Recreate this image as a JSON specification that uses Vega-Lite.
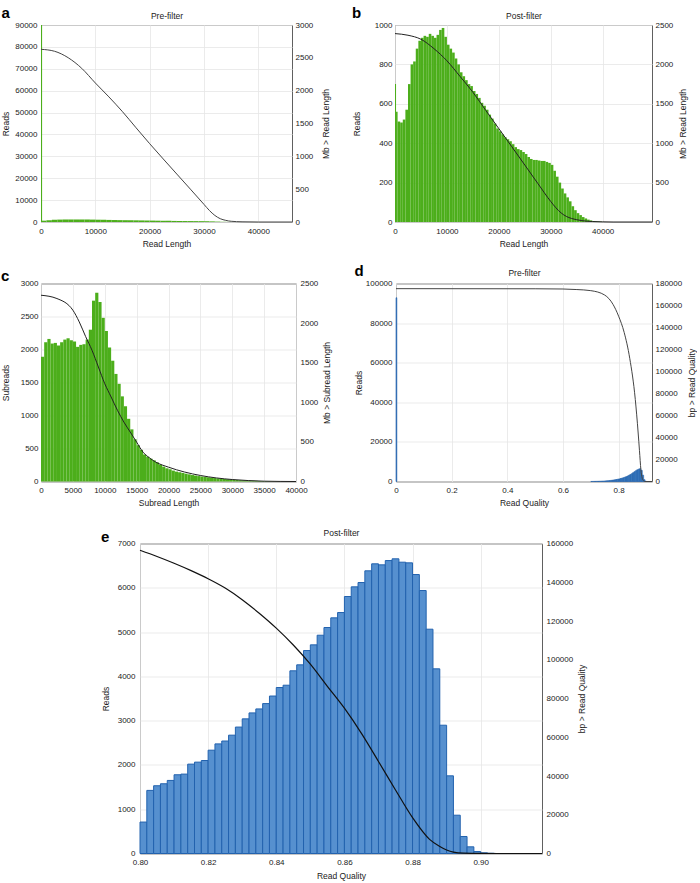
{
"$schema": "https://vega.github.io/schema/vega-lite/v6.json",
"background": "white",
"padding": {"left": 0, "top": 5, "right": 0, "bottom": 0},
"config": {
  "font": "Liberation Sans",
  "view": {"stroke": "#606060", "strokeWidth": 1},
  "axis": {"labelFontSize": 8, "titleFontSize": 8.5, "titleFontWeight": "normal", "labelColor": "#222", "titleColor": "#222", "ticks": false, "domain": false, "grid": false, "gridColor": "#e6e6e6", "gridWidth": 0.8, "labelFlush": false, "labelOverlap": false, "labelBound": false},
  "title": {"fontSize": 15, "fontWeight": "bold", "color": "#000", "anchor": "start", "frame": "bounds", "offset": -10}
},
"datasets": {
  "aBars": [{"s":0,"e":200,"r":90000},{"s":0,"e":1000,"r":600},{"s":1000,"e":2000,"r":800},{"s":2000,"e":3000,"r":1000},{"s":3000,"e":4000,"r":1100},{"s":4000,"e":5000,"r":1150},{"s":5000,"e":6000,"r":1150},{"s":6000,"e":7000,"r":1150},{"s":7000,"e":8000,"r":1150},{"s":8000,"e":9000,"r":1150},{"s":9000,"e":10000,"r":1100},{"s":10000,"e":11000,"r":1050},{"s":11000,"e":12000,"r":1000},{"s":12000,"e":13000,"r":950},{"s":13000,"e":14000,"r":900},{"s":14000,"e":15000,"r":850},{"s":15000,"e":16000,"r":820},{"s":16000,"e":17000,"r":800},{"s":17000,"e":18000,"r":760},{"s":18000,"e":19000,"r":720},{"s":19000,"e":20000,"r":680},{"s":20000,"e":21000,"r":640},{"s":21000,"e":22000,"r":600},{"s":22000,"e":23000,"r":560},{"s":23000,"e":24000,"r":520},{"s":24000,"e":25000,"r":490},{"s":25000,"e":26000,"r":460},{"s":26000,"e":27000,"r":440},{"s":27000,"e":28000,"r":420},{"s":28000,"e":29000,"r":400},{"s":29000,"e":30000,"r":380},{"s":30000,"e":31000,"r":350},{"s":31000,"e":32000,"r":280},{"s":32000,"e":33000,"r":180},{"s":33000,"e":34000,"r":100},{"s":34000,"e":35000,"r":60},{"s":35000,"e":36000,"r":30},{"s":36000,"e":37000,"r":15},{"s":37000,"e":38000,"r":8},{"s":38000,"e":39000,"r":4},{"s":39000,"e":40000,"r":2}],
  "aLine": [{"x":0,"y":2630},{"x":2500,"y":2600},{"x":5000,"y":2502},{"x":7500,"y":2340},{"x":10000,"y":2117},{"x":12500,"y":1905},{"x":15000,"y":1680},{"x":17500,"y":1435},{"x":20000,"y":1193},{"x":22500,"y":960},{"x":25000,"y":730},{"x":27500,"y":500},{"x":30000,"y":268},{"x":31000,"y":175},{"x":32000,"y":100},{"x":33000,"y":50},{"x":34000,"y":25},{"x":35000,"y":11},{"x":37000,"y":3},{"x":40000,"y":0},{"x":46200,"y":0}],
  "bBars": [{"s":0,"e":200,"r":700},{"s":200,"e":500,"r":560},{"s":500,"e":1000,"r":510},{"s":1000,"e":1500,"r":505},{"s":1500,"e":2000,"r":520},{"s":2000,"e":2500,"r":570},{"s":2500,"e":3000,"r":700},{"s":3000,"e":3500,"r":800},{"s":3500,"e":4000,"r":815},{"s":4000,"e":4500,"r":880},{"s":4500,"e":5000,"r":920},{"s":5000,"e":5500,"r":935},{"s":5500,"e":6000,"r":945},{"s":6000,"e":6500,"r":940},{"s":6500,"e":7000,"r":955},{"s":7000,"e":7500,"r":945},{"s":7500,"e":8000,"r":935},{"s":8000,"e":8500,"r":950},{"s":8500,"e":9000,"r":975},{"s":9000,"e":9500,"r":985},{"s":9500,"e":10000,"r":940},{"s":10000,"e":10500,"r":900},{"s":10500,"e":11000,"r":880},{"s":11000,"e":11500,"r":860},{"s":11500,"e":12000,"r":830},{"s":12000,"e":12500,"r":800},{"s":12500,"e":13000,"r":760},{"s":13000,"e":13500,"r":740},{"s":13500,"e":14000,"r":720},{"s":14000,"e":14500,"r":700},{"s":14500,"e":15000,"r":690},{"s":15000,"e":15500,"r":665},{"s":15500,"e":16000,"r":650},{"s":16000,"e":16500,"r":630},{"s":16500,"e":17000,"r":605},{"s":17000,"e":17500,"r":590},{"s":17500,"e":18000,"r":570},{"s":18000,"e":18500,"r":545},{"s":18500,"e":19000,"r":525},{"s":19000,"e":19500,"r":500},{"s":19500,"e":20000,"r":475},{"s":20000,"e":20500,"r":460},{"s":20500,"e":21000,"r":445},{"s":21000,"e":21500,"r":430},{"s":21500,"e":22000,"r":420},{"s":22000,"e":22500,"r":410},{"s":22500,"e":23000,"r":395},{"s":23000,"e":23500,"r":380},{"s":23500,"e":24000,"r":370},{"s":24000,"e":24500,"r":365},{"s":24500,"e":25000,"r":355},{"s":25000,"e":25500,"r":345},{"s":25500,"e":26000,"r":330},{"s":26000,"e":26500,"r":320},{"s":26500,"e":27000,"r":315},{"s":27000,"e":27500,"r":315},{"s":27500,"e":28000,"r":312},{"s":28000,"e":28500,"r":310},{"s":28500,"e":29000,"r":310},{"s":29000,"e":29500,"r":305},{"s":29500,"e":30000,"r":300},{"s":30000,"e":30500,"r":290},{"s":30500,"e":31000,"r":260},{"s":31000,"e":31500,"r":230},{"s":31500,"e":32000,"r":200},{"s":32000,"e":32500,"r":170},{"s":32500,"e":33000,"r":145},{"s":33000,"e":33500,"r":125},{"s":33500,"e":34000,"r":105},{"s":34000,"e":34500,"r":80},{"s":34500,"e":35000,"r":60},{"s":35000,"e":35500,"r":45},{"s":35500,"e":36000,"r":35},{"s":36000,"e":36500,"r":25},{"s":36500,"e":37000,"r":18},{"s":37000,"e":37500,"r":12},{"s":37500,"e":38000,"r":8},{"s":38000,"e":38500,"r":5},{"s":38500,"e":39000,"r":3},{"s":39000,"e":39500,"r":2},{"s":39500,"e":40000,"r":1}],
  "bLine": [{"x":0,"y":2391},{"x":2500,"y":2370},{"x":5000,"y":2319},{"x":7500,"y":2200},{"x":10000,"y":2046},{"x":12500,"y":1850},{"x":15000,"y":1647},{"x":17500,"y":1415},{"x":20000,"y":1185},{"x":22500,"y":955},{"x":25000,"y":723},{"x":27500,"y":490},{"x":30000,"y":260},{"x":31000,"y":180},{"x":32000,"y":115},{"x":33000,"y":71},{"x":34000,"y":45},{"x":35000,"y":29},{"x":36000,"y":17},{"x":38000,"y":6},{"x":40000,"y":2},{"x":42000,"y":0},{"x":49500,"y":0}],
  "cBars": [{"s":0,"e":500,"r":1890},{"s":500,"e":1000,"r":2110},{"s":1000,"e":1500,"r":2160},{"s":1500,"e":2000,"r":2090},{"s":2000,"e":2500,"r":2100},{"s":2500,"e":3000,"r":2060},{"s":3000,"e":3500,"r":2110},{"s":3500,"e":4000,"r":2150},{"s":4000,"e":4500,"r":2170},{"s":4500,"e":5000,"r":2140},{"s":5000,"e":5500,"r":2120},{"s":5500,"e":6000,"r":2040},{"s":6000,"e":6500,"r":2070},{"s":6500,"e":7000,"r":2080},{"s":7000,"e":7500,"r":2150},{"s":7500,"e":8000,"r":2300},{"s":8000,"e":8500,"r":2740},{"s":8500,"e":9000,"r":2860},{"s":9000,"e":9500,"r":2720},{"s":9500,"e":10000,"r":2480},{"s":10000,"e":10500,"r":2280},{"s":10500,"e":11000,"r":2030},{"s":11000,"e":11500,"r":1830},{"s":11500,"e":12000,"r":1630},{"s":12000,"e":12500,"r":1480},{"s":12500,"e":13000,"r":1290},{"s":13000,"e":13500,"r":1140},{"s":13500,"e":14000,"r":950},{"s":14000,"e":14500,"r":790},{"s":14500,"e":15000,"r":640},{"s":15000,"e":15500,"r":550},{"s":15500,"e":16000,"r":480},{"s":16000,"e":16500,"r":410},{"s":16500,"e":17000,"r":375},{"s":17000,"e":17500,"r":345},{"s":17500,"e":18000,"r":320},{"s":18000,"e":18500,"r":290},{"s":18500,"e":19000,"r":255},{"s":19000,"e":19500,"r":225},{"s":19500,"e":20000,"r":200},{"s":20000,"e":20500,"r":185},{"s":20500,"e":21000,"r":165},{"s":21000,"e":21500,"r":150},{"s":21500,"e":22000,"r":140},{"s":22000,"e":22500,"r":130},{"s":22500,"e":23000,"r":118},{"s":23000,"e":23500,"r":108},{"s":23500,"e":24000,"r":98},{"s":24000,"e":24500,"r":90},{"s":24500,"e":25000,"r":82},{"s":25000,"e":25500,"r":75},{"s":25500,"e":26000,"r":70},{"s":26000,"e":26500,"r":64},{"s":26500,"e":27000,"r":58},{"s":27000,"e":27500,"r":52},{"s":27500,"e":28000,"r":47},{"s":28000,"e":28500,"r":42},{"s":28500,"e":29000,"r":38},{"s":29000,"e":29500,"r":34},{"s":29500,"e":30000,"r":30},{"s":30000,"e":30500,"r":26},{"s":30500,"e":31000,"r":23},{"s":31000,"e":31500,"r":20},{"s":31500,"e":32000,"r":18},{"s":32000,"e":32500,"r":16},{"s":32500,"e":33000,"r":14},{"s":33000,"e":33500,"r":12},{"s":33500,"e":34000,"r":10},{"s":34000,"e":34500,"r":8},{"s":34500,"e":35000,"r":6},{"s":35000,"e":35500,"r":5},{"s":35500,"e":36000,"r":4},{"s":36000,"e":36500,"r":3},{"s":36500,"e":37000,"r":2},{"s":37000,"e":37500,"r":1.5},{"s":37500,"e":38000,"r":1},{"s":38000,"e":38500,"r":1},{"s":38500,"e":39000,"r":0.5},{"s":39000,"e":39500,"r":0.5}],
  "cLine": [{"x":0,"y":2352},{"x":2500,"y":2310},{"x":5000,"y":2163},{"x":6000,"y":2015},{"x":7000,"y":1830},{"x":8000,"y":1657},{"x":9000,"y":1446},{"x":10000,"y":1235},{"x":11000,"y":1067},{"x":12000,"y":898},{"x":13000,"y":750},{"x":14000,"y":624},{"x":15000,"y":497},{"x":16000,"y":371},{"x":17000,"y":299},{"x":18000,"y":245},{"x":20000,"y":181},{"x":22500,"y":120},{"x":25000,"y":76},{"x":27500,"y":45},{"x":30000,"y":25},{"x":32500,"y":12},{"x":35000,"y":4},{"x":37500,"y":1},{"x":40000,"y":0}],
  "dBars": [{"s":0,"e":0.003,"r":92800},{"s":0.7,"e":0.705,"r":30},{"s":0.705,"e":0.71,"r":40},{"s":0.71,"e":0.715,"r":50},{"s":0.715,"e":0.72,"r":70},{"s":0.72,"e":0.725,"r":90},{"s":0.725,"e":0.73,"r":110},{"s":0.73,"e":0.735,"r":130},{"s":0.735,"e":0.74,"r":160},{"s":0.74,"e":0.745,"r":190},{"s":0.745,"e":0.75,"r":230},{"s":0.75,"e":0.755,"r":280},{"s":0.755,"e":0.76,"r":330},{"s":0.76,"e":0.765,"r":400},{"s":0.765,"e":0.77,"r":470},{"s":0.77,"e":0.775,"r":550},{"s":0.775,"e":0.78,"r":650},{"s":0.78,"e":0.785,"r":760},{"s":0.785,"e":0.79,"r":880},{"s":0.79,"e":0.795,"r":1010},{"s":0.795,"e":0.8,"r":1150},{"s":0.8,"e":0.805,"r":1300},{"s":0.805,"e":0.81,"r":1480},{"s":0.81,"e":0.815,"r":1680},{"s":0.815,"e":0.82,"r":1900},{"s":0.82,"e":0.825,"r":2150},{"s":0.825,"e":0.83,"r":2430},{"s":0.83,"e":0.835,"r":2750},{"s":0.835,"e":0.84,"r":3100},{"s":0.84,"e":0.845,"r":3500},{"s":0.845,"e":0.85,"r":3950},{"s":0.85,"e":0.855,"r":4450},{"s":0.855,"e":0.86,"r":4950},{"s":0.86,"e":0.865,"r":5450},{"s":0.865,"e":0.87,"r":5900},{"s":0.87,"e":0.875,"r":6250},{"s":0.875,"e":0.88,"r":6500},{"s":0.88,"e":0.885,"r":5600},{"s":0.885,"e":0.89,"r":3200},{"s":0.89,"e":0.895,"r":900},{"s":0.895,"e":0.9,"r":100}],
  "dLine": [{"x":0,"y":175300},{"x":0.5,"y":175200},{"x":0.6,"y":175000},{"x":0.65,"y":174500},{"x":0.7,"y":173500},{"x":0.75,"y":169500},{"x":0.78,"y":161000},{"x":0.8,"y":150300},{"x":0.82,"y":135500},{"x":0.84,"y":112000},{"x":0.86,"y":74500},{"x":0.87,"y":45000},{"x":0.875,"y":28000},{"x":0.88,"y":11000},{"x":0.885,"y":3000},{"x":0.89,"y":500},{"x":0.895,"y":0},{"x":0.92,"y":0}],
  "eBars": [{"s":0.800,"e":0.802,"r":710},{"s":0.802,"e":0.804,"r":1425},{"s":0.804,"e":0.806,"r":1530},{"s":0.806,"e":0.808,"r":1575},{"s":0.808,"e":0.810,"r":1650},{"s":0.810,"e":0.812,"r":1778},{"s":0.812,"e":0.814,"r":1793},{"s":0.814,"e":0.816,"r":2018},{"s":0.816,"e":0.818,"r":2063},{"s":0.818,"e":0.820,"r":2100},{"s":0.820,"e":0.822,"r":2333},{"s":0.822,"e":0.824,"r":2475},{"s":0.824,"e":0.826,"r":2540},{"s":0.826,"e":0.828,"r":2672},{"s":0.828,"e":0.830,"r":2855},{"s":0.830,"e":0.832,"r":3040},{"s":0.832,"e":0.834,"r":3175},{"s":0.834,"e":0.836,"r":3265},{"s":0.836,"e":0.838,"r":3385},{"s":0.838,"e":0.840,"r":3556},{"s":0.840,"e":0.842,"r":3748},{"s":0.842,"e":0.844,"r":3800},{"s":0.844,"e":0.846,"r":4125},{"s":0.846,"e":0.848,"r":4260},{"s":0.848,"e":0.850,"r":4583},{"s":0.850,"e":0.852,"r":4711},{"s":0.852,"e":0.854,"r":4929},{"s":0.854,"e":0.856,"r":5103},{"s":0.856,"e":0.858,"r":5321},{"s":0.858,"e":0.860,"r":5441},{"s":0.860,"e":0.862,"r":5803},{"s":0.862,"e":0.864,"r":6021},{"s":0.864,"e":0.866,"r":6119},{"s":0.866,"e":0.868,"r":6383},{"s":0.868,"e":0.870,"r":6541},{"s":0.870,"e":0.872,"r":6518},{"s":0.872,"e":0.874,"r":6615},{"s":0.874,"e":0.876,"r":6654},{"s":0.876,"e":0.878,"r":6578},{"s":0.878,"e":0.880,"r":6563},{"s":0.880,"e":0.882,"r":6299},{"s":0.882,"e":0.884,"r":5938},{"s":0.884,"e":0.886,"r":5065},{"s":0.886,"e":0.888,"r":4170},{"s":0.888,"e":0.890,"r":2897},{"s":0.890,"e":0.892,"r":1754},{"s":0.892,"e":0.894,"r":865},{"s":0.894,"e":0.896,"r":384},{"s":0.896,"e":0.898,"r":151},{"s":0.898,"e":0.900,"r":45},{"s":0.900,"e":0.902,"r":15},{"s":0.902,"e":0.904,"r":5}],
  "eLine": [{"x":0.800,"y":156500},{"x":0.805,"y":153300},{"x":0.810,"y":149800},{"x":0.815,"y":146000},{"x":0.820,"y":141800},{"x":0.825,"y":137000},{"x":0.830,"y":131000},{"x":0.835,"y":124000},{"x":0.840,"y":116300},{"x":0.845,"y":107600},{"x":0.850,"y":97700},{"x":0.855,"y":86300},{"x":0.860,"y":75000},{"x":0.865,"y":62000},{"x":0.870,"y":47500},{"x":0.875,"y":32800},{"x":0.880,"y":18500},{"x":0.885,"y":7300},{"x":0.888,"y":3600},{"x":0.890,"y":1800},{"x":0.892,"y":700},{"x":0.895,"y":150},{"x":0.900,"y":20},{"x":0.905,"y":0},{"x":0.918,"y":0}]
},
"vconcat": [
 {"vconcat": [
  {"hconcat": [
    {"width": 251, "height": 197,
     "title": {"text": "a"},
     "layer": [
       {"data": {"name": "aBars"}, "mark": {"type": "bar", "color": "#4cae1b"},
        "encoding": {
          "x": {"field": "s", "type": "quantitative", "scale": {"domain": [0, 46200], "nice": false, "zero": false}, "axis": {"orient": "bottom", "grid": true, "values": [0,10000,20000,30000,40000], "format": "d", "labelPadding": 5, "titlePadding": 4, "title": "Read Length"}},
          "x2": {"field": "e"},
          "y": {"field": "r", "type": "quantitative", "scale": {"domain": [0, 90000], "nice": false}, "axis": {"orient": "left", "grid": true, "values": [0,10000,20000,30000,40000,50000,60000,70000,80000,90000], "format": "d", "labelPadding": 4, "minExtent": 22, "maxExtent": 22, "titlePadding": 8.5, "title": "Reads"}},
          "y2": {"datum": 0}}},
       {"data": {"name": "aLine"}, "mark": {"type": "line", "color": "#444", "strokeWidth": 1, "interpolate": "monotone"},
        "encoding": {
          "x": {"field": "x", "type": "quantitative", "scale": {"domain": [0, 46200], "nice": false, "zero": false}, "axis": {"orient": "top", "labels": false, "grid": false, "title": "Pre-filter", "titlePadding": 5}},
          "y": {"field": "y", "type": "quantitative", "scale": {"domain": [0, 3000], "nice": false}, "axis": {"orient": "right", "values": [0,500,1000,1500,2000,2500,3000], "format": "d", "labelPadding": 3, "minExtent": 18, "maxExtent": 18, "titlePadding": 11.5, "titleAngle": 270, "titleBaseline": "top", "title": "Mb > Read Length"}}}}
     ],
     "resolve": {"scale": {"y": "independent"}, "axis": {"x": "independent"}}},
    {"width": 257, "height": 197,
     "title": {"text": "b"},
     "layer": [
       {"data": {"name": "bBars"}, "mark": {"type": "bar", "color": "#4cae1b"},
        "encoding": {
          "x": {"field": "s", "type": "quantitative", "scale": {"domain": [0, 49500], "nice": false, "zero": false}, "axis": {"orient": "bottom", "grid": true, "values": [0,10000,20000,30000,40000], "format": "d", "labelPadding": 5, "titlePadding": 4, "title": "Read Length"}},
          "x2": {"field": "e"},
          "y": {"field": "r", "type": "quantitative", "scale": {"domain": [0, 1000], "nice": false}, "axis": {"orient": "left", "grid": true, "values": [0,200,400,600,800,1000], "format": "d", "labelPadding": 3, "minExtent": 22, "maxExtent": 22, "titlePadding": 12, "title": "Reads"}},
          "y2": {"datum": 0}}},
       {"data": {"name": "bLine"}, "mark": {"type": "line", "color": "#222", "strokeWidth": 1, "interpolate": "monotone"},
        "encoding": {
          "x": {"field": "x", "type": "quantitative", "scale": {"domain": [0, 49500], "nice": false, "zero": false}, "axis": {"orient": "top", "labels": false, "grid": false, "title": "Post-filter", "titlePadding": 5}},
          "y": {"field": "y", "type": "quantitative", "scale": {"domain": [0, 2500], "nice": false}, "axis": {"orient": "right", "values": [0,500,1000,1500,2000,2500], "format": "d", "labelPadding": 3, "minExtent": 18, "maxExtent": 18, "titlePadding": 8, "titleAngle": 270, "titleBaseline": "top", "title": "Mb > Read Length"}}}}
     ],
     "resolve": {"scale": {"y": "independent"}, "axis": {"x": "independent"}}}
  ], "spacing": 20},
  {"hconcat": [
    {"width": 255, "height": 198,
     "title": {"text": "c", "offset": -4},
     "layer": [
       {"data": {"name": "cBars"}, "mark": {"type": "bar", "color": "#4cae1b"},
        "encoding": {
          "x": {"field": "s", "type": "quantitative", "scale": {"domain": [0, 40000], "nice": false, "zero": false}, "axis": {"orient": "bottom", "grid": true, "values": [0,5000,10000,15000,20000,25000,30000,35000,40000], "format": "d", "labelPadding": 5, "titlePadding": 4, "title": "Subread Length"}},
          "x2": {"field": "e"},
          "y": {"field": "r", "type": "quantitative", "scale": {"domain": [0, 3000], "nice": false}, "axis": {"orient": "left", "grid": true, "values": [0,500,1000,1500,2000,2500,3000], "format": "d", "labelPadding": 3, "minExtent": 22, "maxExtent": 22, "titlePadding": 9, "title": "Subreads"}},
          "y2": {"datum": 0}}},
       {"data": {"name": "cLine"}, "mark": {"type": "line", "color": "#222", "strokeWidth": 1, "interpolate": "monotone"},
        "encoding": {
          "x": {"field": "x", "type": "quantitative", "scale": {"domain": [0, 40000], "nice": false, "zero": false}, "axis": {"orient": "bottom", "grid": true, "values": [0,5000,10000,15000,20000,25000,30000,35000,40000], "format": "d", "labelPadding": 5, "titlePadding": 4, "title": "Subread Length"}},
          "y": {"field": "y", "type": "quantitative", "scale": {"domain": [0, 2500], "nice": false}, "axis": {"orient": "right", "values": [0,500,1000,1500,2000,2500], "format": "d", "labelPadding": 4, "minExtent": 18, "maxExtent": 18, "titlePadding": 8.5, "titleAngle": 270, "titleBaseline": "top", "title": "Mb > Subread Length"}}}}
     ],
     "resolve": {"scale": {"y": "independent"}}},
    {"width": 256, "height": 198,
     "title": {"text": "d"},
     "layer": [
       {"data": {"name": "dBars"}, "mark": {"type": "bar", "color": "#3f7fc4", "stroke": "#1d5ca8", "strokeWidth": 0.6},
        "encoding": {
          "x": {"field": "s", "type": "quantitative", "scale": {"domain": [0, 0.92], "nice": false, "zero": false}, "axis": {"orient": "bottom", "grid": true, "values": [0,0.2,0.4,0.6,0.8], "format": "~g", "labelPadding": 5, "titlePadding": 4, "title": "Read Quality"}},
          "x2": {"field": "e"},
          "y": {"field": "r", "type": "quantitative", "scale": {"domain": [0, 100000], "nice": false}, "axis": {"orient": "left", "grid": true, "values": [0,20000,40000,60000,80000,100000], "format": "d", "labelPadding": 4, "minExtent": 27, "maxExtent": 27, "titlePadding": 5.5, "title": "Reads"}},
          "y2": {"datum": 0}}},
       {"data": {"name": "dLine"}, "mark": {"type": "line", "color": "#444", "strokeWidth": 1, "interpolate": "monotone"},
        "encoding": {
          "x": {"field": "x", "type": "quantitative", "scale": {"domain": [0, 0.92], "nice": false, "zero": false}, "axis": {"orient": "top", "labels": false, "grid": false, "title": "Pre-filter", "titlePadding": 6}},
          "y": {"field": "y", "type": "quantitative", "scale": {"domain": [0, 180000], "nice": false}, "axis": {"orient": "right", "values": [0,20000,40000,60000,80000,100000,120000,140000,160000,180000], "format": "d", "labelPadding": 3, "minExtent": 27, "maxExtent": 27, "titlePadding": 8.5, "titleAngle": 270, "titleBaseline": "top", "title": "bp > Read Quality"}}}}
     ],
     "resolve": {"scale": {"y": "independent"}, "axis": {"x": "independent"}}}
  ], "spacing": 22}
 ], "spacing": 14.5},
  {"hconcat": [
    {"width": 59, "height": 1, "view": {"stroke": null}, "data": {"values": []}, "mark": "point", "encoding": {}},
    {"width": 402, "height": 310,
     "title": {"text": "e", "offset": -16},
     "layer": [
       {"data": {"name": "eBars"}, "mark": {"type": "bar", "color": "#5690cf", "stroke": "#2262ae", "strokeWidth": 1},
        "encoding": {
          "x": {"field": "s", "type": "quantitative", "scale": {"domain": [0.8, 0.918], "nice": false, "zero": false}, "axis": {"orient": "bottom", "grid": true, "values": [0.8,0.82,0.84,0.86,0.88,0.9], "format": ".2f", "labelPadding": 5, "titlePadding": 5, "title": "Read Quality"}},
          "x2": {"field": "e"},
          "y": {"field": "r", "type": "quantitative", "scale": {"domain": [0, 7000], "nice": false}, "axis": {"orient": "left", "grid": true, "values": [0,1000,2000,3000,4000,5000,6000,7000], "format": "d", "labelPadding": 5, "minExtent": 18, "maxExtent": 18, "titlePadding": 12, "title": "Reads"}},
          "y2": {"datum": 0}}},
       {"data": {"name": "eLine"}, "mark": {"type": "line", "color": "#111", "strokeWidth": 1.2, "interpolate": "monotone"},
        "encoding": {
          "x": {"field": "x", "type": "quantitative", "scale": {"domain": [0.8, 0.918], "nice": false, "zero": false}, "axis": {"orient": "top", "labels": false, "grid": false, "title": "Post-filter", "titlePadding": 6}},
          "y": {"field": "y", "type": "quantitative", "scale": {"domain": [0, 160000], "nice": false}, "axis": {"orient": "right", "values": [0,20000,40000,60000,80000,100000,120000,140000,160000], "format": "d", "labelPadding": 4, "minExtent": 27, "maxExtent": 27, "titlePadding": 8, "titleAngle": 270, "titleBaseline": "top", "title": "bp > Read Quality"}}}}
     ],
     "resolve": {"scale": {"y": "independent"}, "axis": {"x": "independent"}}}
  ], "spacing": 0, "align": "none"}
],
"spacing": 19.5
}
